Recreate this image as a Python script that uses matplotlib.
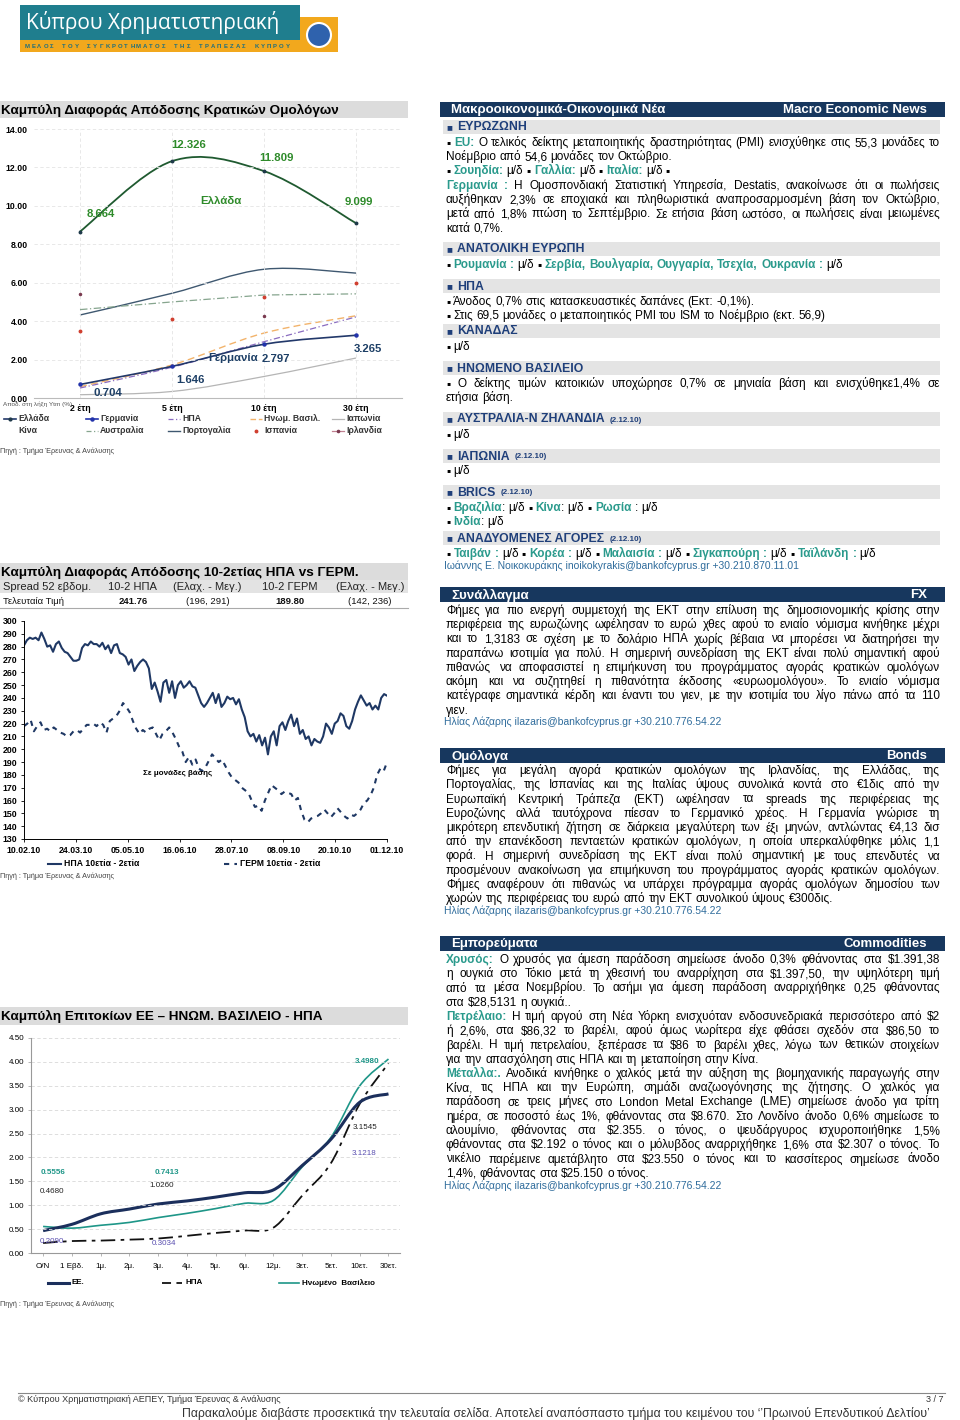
import re
import numpy as np
import pandas as pd
import matplotlib
matplotlib.use("Agg")
import matplotlib.pyplot as plt
import matplotlib.dates as mdates
from matplotlib.patches import Rectangle, Circle, PathPatch
from matplotlib.path import Path
from matplotlib.lines import Line2D

plt.rcParams["font.family"] = ["Liberation Sans", "DejaVu Sans"]
plt.rcParams["text.parse_math"] = False

# ---------------- data ----------------
maturities = ["2 έτη", "5 έτη", "10 έτη", "30 έτη"]
greece = [8.664, 12.326, 11.809, 9.099]
germany = [0.704, 1.646, 2.797, 3.265]
usa = [0.52, 1.60, 2.93, 4.22]
uk = [0.59, 1.72, 3.38, 4.28]
japan = [0.17, 0.34, 1.12, 2.08]
australia = [4.60, 5.00, 5.36, 5.42]
portugal = [4.32, 5.45, 6.70, 6.50]
spain = [3.50, 4.10, 5.28, 6.00]
ireland = [5.42, np.nan, 4.28, np.nan]

us_spread = [281, 285, 287, 286, 287, 285, 291, 286, 280, 281, 276, 282, 284, 279,
             276, 275, 272, 269, 269, 270, 279, 282, 281, 284, 282, 282, 280, 283,
             278, 281, 275, 281, 282, 275, 274, 272, 266, 270, 261, 265, 268, 270,
             268, 263, 247, 252, 245, 237, 252, 254, 244, 253, 240, 250, 253, 248,
             250, 253, 249, 248, 242, 236, 233, 236, 240, 244, 236, 243, 233, 236,
             241, 239, 240, 235, 239, 231, 225, 214, 210, 212, 206, 211, 203, 209,
             196, 210, 214, 203, 218, 221, 215, 222, 227, 218, 224, 212, 215, 208,
             210, 203, 208, 206, 205, 210, 220, 217, 212, 220, 222, 228, 226, 218,
             216, 222, 231, 237, 242, 238, 234, 236, 231, 234, 231, 240, 243, 241.76]
de_spread = [218, 220, 223, 214, 218, 221, 215, 216, 214, 217, 215, 213, 212, 210,
             211, 214, 215, 213, 216, 219, 219, 220, 218, 221, 219, 213, 222, 224,
             226, 230, 236, 233, 229, 222, 216, 212, 215, 213, 216, 217, 212, 207,
             212, 214, 217, 213, 208, 202, 198, 190, 194, 188, 192, 185, 183, 186,
             191, 196, 193, 190, 192, 187, 182, 178, 176, 174, 170, 168, 166, 160,
             155, 156, 152, 160, 166, 172, 170, 168, 165, 167, 166, 165, 160, 162,
             152, 145, 143, 146, 147, 148, 150, 153, 150, 147, 150, 154, 151, 148,
             146, 149, 148, 150, 153, 158, 160, 164, 170, 180, 185, 183, 189.8]
spread_ticks = ["10.02.10", "24.03.10", "05.05.10", "16.06.10", "28.07.10",
                "08.09.10", "20.10.10", "01.12.10"]

rate_mats = ["O/N", "1 Εβδ.", "1μ.", "2μ.", "3μ.", "4μ.", "5μ.", "6μ.", "12μ.",
             "3ετ.", "5ετ.", "10ετ.", "30ετ."]
rates_eu = [0.468, 0.60, 0.82, 0.92, 1.026, 1.09, 1.17, 1.26, 1.32, 1.83, 2.38, 3.1545, 3.33]
rates_uk = [0.5556, 0.52, 0.58, 0.64, 0.7413, 0.83, 0.93, 1.04, 1.10, 1.80, 2.42, 3.498, 4.06]
rates_us = [0.209, 0.25, 0.26, 0.28, 0.3034, 0.36, 0.42, 0.47, 0.53, 1.20, 1.88, 3.1218, 3.97]

NAVY = "#17375E"
HEAD = "#1F3F7A"
TEAL = "#2A9A8C"
AUTH = "#2F6C9C"
W, H = 960, 1420

fig = plt.figure(figsize=(9.6, 14.2), dpi=100)
R = fig.canvas.get_renderer()


def fx(x):
    return x / W


def fy(y):
    return 1 - y / H


def box(x0, y0, x1, y1, color, z=0.5):
    fig.add_artist(Rectangle((fx(x0), fy(y1)), (x1 - x0) / W, (y1 - y0) / H,
                             transform=fig.transFigure, facecolor=color,
                             edgecolor="none", zorder=z))


def txt(x, y, s, **kw):
    return fig.text(fx(x), fy(y), s, **kw)


def axes_px(x0, y0, x1, y1):
    return fig.add_axes([fx(x0), fy(y1), (x1 - x0) / W, (y1 - y0) / H])


def hline(x0, x1, y, **kw):
    fig.add_artist(Line2D([fx(x0), fx(x1)], [fy(y), fy(y)], transform=fig.transFigure, **kw))


def smooth(ax, xs, ys, **kw):
    pts = np.column_stack([xs, ys]).astype(float)
    n = len(pts)
    verts, codes = [pts[0]], [Path.MOVETO]
    for i in range(n - 1):
        p0, p1 = pts[max(i - 1, 0)], pts[i]
        p2, p3 = pts[i + 1], pts[min(i + 2, n - 1)]
        verts += [p1 + (p2 - p0) / 6, p2 - (p3 - p1) / 6, p2]
        codes += [Path.CURVE4] * 3
    ax.add_patch(PathPatch(Path(verts, codes), fill=False, **kw))


# ---------------- header / footer ----------------
box(20, 5, 300, 40, "#1F7E8E")
box(20, 40, 338, 52, "#F2A81D")
box(300, 17, 338, 52, "#F2A81D")
fig.add_artist(Circle((3.19, 14.2 - 0.35), 0.12, transform=fig.dpi_scale_trans,
                      facecolor="#2F62AD", edgecolor="white", lw=1.5, zorder=2))
txt(26, 23, "Κύπρου Χρηματιστηριακή", color="white", fontsize=15,
    family=["Open Sans", "DejaVu Sans"], va="center")
strip = "ΜΕΛΟΣ ΤΟΥ ΣΥΓΚΡΟΤΗΜΑΤΟΣ ΤΗΣ ΤΡΑΠΕΖΑΣ ΚΥΠΡΟΥ"
for i, ch in enumerate(strip):
    txt(27 + i * 6.2, 46.5, ch, color="#1F6E7E", fontsize=4.3, fontweight="bold",
        va="center", ha="center")

hline(18, 945, 1393, color="#888888", lw=0.8)
txt(18, 1399, "© Κύπρου Χρηματιστηριακή ΑΕΠΕΥ, Τμήμα Έρευνας & Ανάλυσης", fontsize=6.5,
    color="#333333", va="center", family=["Liberation Sans Narrow", "Liberation Sans"])
txt(943, 1399, "3 / 7", fontsize=6.5, color="#333333", va="center", ha="right")
txt(930, 1413, "Παρακαλούμε διαβάστε προσεκτικά την τελευταία σελίδα. Αποτελεί αναπόσπαστο "
    "τμήμα του κειμένου του ‘’Πρωινού Επενδυτικού Δελτίου’", fontsize=8.8, color="#333333",
    va="center", ha="right", family=["Liberation Sans Narrow", "Liberation Sans"])


def chart_title(y0, y1, s):
    box(0, y0, 408, y1, "#DCDCDC")
    txt(1, (y0 + y1) / 2 + 0.5, s, fontsize=9.7, fontweight="bold", va="center")


def source(y):
    txt(0, y, "Πηγή : Τμήμα Έρευνας & Ανάλυσης", fontsize=5.2, color="#444444", va="center")


# ---------------- chart 1 ----------------
chart_title(101, 118, "Καμπύλη Διαφοράς Απόδοσης Κρατικών Ομολόγων")
ax1 = axes_px(34, 129, 402, 398)
ax1.set_xlim(-0.5, 3.5)
ax1.set_ylim(0, 14)
x4 = np.arange(len(maturities))
ax1.plot(x4, australia, color="#86A58E", lw=0.9, dashes=(6, 2, 1, 2))
smooth(ax1, x4, portugal, edgecolor="#3F5870", lw=1.0)
smooth(ax1, x4, japan, edgecolor="#B5B5B5", lw=0.9)
smooth(ax1, x4, uk, edgecolor="#F2B36B", lw=1.0, linestyle=(0, (5, 3)))
smooth(ax1, x4, usa, edgecolor="#8A6CC0", lw=0.9, linestyle=(0, (5, 2, 1, 2)))
smooth(ax1, x4, germany, edgecolor="#22386A", lw=1.2)
smooth(ax1, x4, greece, edgecolor="#1F5A30", lw=1.3)
ax1.plot(x4, greece, "o", ms=1.8, color="#1F3A4A")
ax1.plot(x4, germany, "o", ms=2.2, color="#2233AA")
ax1.plot(x4, spain, "o", ms=1.8, color="#D04030")
ax1.plot(x4, ireland, "o", ms=1.5, color="#7A3A50")
for xi, yi, s in [(0.23, 9.6, "8.664"), (1.18, 13.15, "12.326"), (2.14, 12.5, "11.809"),
                  (3.03, 10.2, "9.099"), (1.53, 10.25, "Ελλάδα")]:
    ax1.text(xi, yi, s, color="#2E8B2A", fontsize=8.2, fontweight="bold", ha="center", va="center")
for xi, yi, s in [(0.3, 0.25, "0.704"), (1.2, 0.95, "1.646"), (2.13, 2.05, "2.797"),
                  (3.13, 2.55, "3.265"), (1.66, 2.08, "Γερμανία")]:
    ax1.text(xi, yi, s, color="#1D3F66", fontsize=8.2, fontweight="bold", ha="center", va="center")
ax1.set_yticks(np.arange(0, 15, 2))
ax1.set_yticklabels(["%.2f" % v for v in np.arange(0, 15, 2)], fontsize=6.3, fontweight="bold")
ax1.set_xticks(x4)
ax1.set_xticklabels(maturities, fontsize=6.3, fontweight="bold")
ax1.tick_params(length=0, pad=4.5)
ax1.grid(True, color="#E4E4E4", lw=0.6, dashes=(4, 3))
for sp in ax1.spines.values():
    sp.set_visible(False)
ax1.spines["bottom"].set_visible(True)
ax1.spines["bottom"].set_color("#BBBBBB")
txt(3, 404.5, "Αποδ. στη λήξη Ytm (%)", fontsize=4.6, color="#555555", va="center")

leg1 = [("Ελλάδα", dict(color="#22386A", lw=1.2), "o", 2.0),
        ("Γερμανία", dict(color="#2233AA", lw=1.2), "o", 2.2),
        ("ΗΠΑ", dict(color="#8A6CC0", lw=0.9, dashes=(4, 2, 1, 2)), None, 0),
        ("Ηνωμ. Βασιλ.", dict(color="#F2B36B", lw=1.0, dashes=(4, 2)), None, 0),
        ("Ιαπωνία", dict(color="#B5B5B5", lw=0.9), None, 0),
        ("Κίνα", dict(color="white", lw=0), None, 0),
        ("Αυστραλία", dict(color="#86A58E", lw=0.9, dashes=(4, 2, 1, 2)), None, 0),
        ("Πορτογαλία", dict(color="#3F5870", lw=1.0), None, 0),
        ("Ισπανία", dict(color="white", lw=0), "o", 1.8),
        ("Ιρλανδία", dict(color="#C08090", lw=0.9), "o", 1.6)]
leg_marker_col = {"Ισπανία": "#D04030", "Ιρλανδία": "#7A3A50", "Ελλάδα": "#1F3A4A", "Γερμανία": "#2233AA"}
for i, (name, st, mk, ms) in enumerate(leg1):
    cx = 4 + (i % 5) * 82
    cy = 419 if i < 5 else 431
    fig.add_artist(Line2D([fx(cx), fx(cx + 12)], [fy(cy), fy(cy)], transform=fig.transFigure, **st))
    if mk:
        fig.add_artist(Line2D([fx(cx + 6)], [fy(cy)], transform=fig.transFigure, lw=0,
                              marker=mk, ms=ms, color=leg_marker_col[name]))
    txt(cx + 14, cy, name, fontsize=6.2, fontweight="bold", color="#333333", va="center")
source(451)

# ---------------- chart 2 ----------------
chart_title(563, 580, "Καμπύλη Διαφοράς Απόδοσης 10-2ετίας ΗΠΑ vs ΓΕΡΜ.")
box(0, 580, 408, 593, "#E3E3E3")
for x, s, ha in [(3, "Spread 52 εβδομ.", "left"), (132, "10-2 ΗΠΑ", "center"),
                 (207, "(Ελαχ. - Μεγ.)", "center"), (290, "10-2 ΓΕΡΜ", "center"),
                 (370, "(Ελαχ. - Μεγ.)", "center")]:
    txt(x, 587, s, fontsize=8, ha=ha, va="center", color="#222222")
for x, s, ha, wt in [(3, "Τελευταία Τιμή", "left", "normal"), (133, "241.76", "center", "bold"),
                     (208, "(196, 291)", "center", "normal"), (290, "189.80", "center", "bold"),
                     (370, "(142, 236)", "center", "normal")]:
    txt(x, 601, s, fontsize=6.8, ha=ha, va="center", fontweight=wt, color="#111111")
hline(0, 408, 608.5, color="#AAAAAA", lw=0.8)

ax2 = axes_px(24, 621, 387, 839)
d_start, d_end = pd.Timestamp("2010-02-10"), pd.Timestamp("2010-12-01")
ax2.plot(pd.date_range(d_start, d_end, periods=len(us_spread)), us_spread,
         color="#1F3864", lw=1.5)
ax2.plot(pd.date_range(d_start, d_end, periods=len(de_spread)), de_spread,
         color="#1F3864", lw=1.5, dashes=(2.5, 2.5))
ax2.set_xlim(d_start, d_end)
ax2.set_ylim(130, 300)
ax2.set_yticks(range(130, 301, 10))
ax2.set_xticks(pd.to_datetime(spread_ticks, format="%d.%m.%y"))
ax2.xaxis.set_major_formatter(mdates.DateFormatter("%d.%m.%y"))
ax2.tick_params(labelsize=6.3, length=2, width=0.6, pad=3)
for lab in ax2.get_xticklabels() + ax2.get_yticklabels():
    lab.set_fontweight("bold")
ax2.spines["top"].set_visible(False)
ax2.spines["right"].set_visible(False)
ax2.spines["left"].set_linewidth(0.7)
ax2.spines["bottom"].set_linewidth(0.7)
ax2.text(pd.Timestamp("2010-06-14"), 181, "Σε μονάδες βάσης", fontsize=5.8,
         fontweight="bold", ha="center", va="center")
fig.add_artist(Line2D([fx(48), fx(61)], [fy(864), fy(864)], transform=fig.transFigure,
                      color="#1F3864", lw=1.5))
txt(64, 864, "ΗΠΑ 10ετία - 2ετία", fontsize=6.2, fontweight="bold", va="center")
fig.add_artist(Line2D([fx(224), fx(237)], [fy(864), fy(864)], transform=fig.transFigure,
                      color="#1F3864", lw=1.5, dashes=(2.5, 2.5)))
txt(240, 864, "ΓΕΡΜ 10ετία - 2ετία", fontsize=6.2, fontweight="bold", va="center")
source(876)

# ---------------- chart 3 ----------------
chart_title(1007, 1025, "Καμπύλη Επιτοκίων ΕΕ – ΗΝΩΜ. ΒΑΣΙΛΕΙΟ - ΗΠΑ")
ax3 = axes_px(31, 1038, 400, 1253)
x13 = np.arange(len(rate_mats))
ax3.set_xlim(-0.42, 12.4)
ax3.set_ylim(0, 4.5)
smooth(ax3, x13, rates_us, edgecolor="#111111", lw=1.3, linestyle=(0, (8, 3, 2, 3)))
smooth(ax3, x13, rates_uk, edgecolor="#1E9688", lw=1.2)
smooth(ax3, x13, rates_eu, edgecolor="#1B2F5C", lw=2.2)
for xi, yi, s in [(0.35, 1.68, "0.5556"), (4.3, 1.68, "0.7413"), (11.25, 4.0, "3.4980")]:
    ax3.text(xi, yi, s, color="#1E9688", fontsize=5.8, fontweight="bold", ha="center", va="center")
for xi, yi, s in [(0.3, 1.29, "0.4680"), (4.12, 1.42, "1.0260"), (11.2, 2.62, "3.1545")]:
    ax3.text(xi, yi, s, color="#222222", fontsize=5.8, ha="center", va="center")
for xi, yi, s in [(0.32, 0.24, "0.2090"), (4.2, 0.20, "0.3034"), (11.15, 2.08, "3.1218")]:
    ax3.text(xi, yi, s, color="#5A4FB0", fontsize=5.8, ha="center", va="center")
ax3.set_yticks(np.arange(0, 4.51, 0.5))
ax3.set_yticklabels(["%.2f" % v for v in np.arange(0, 4.51, 0.5)])
ax3.set_xticks(x13)
ax3.set_xticklabels(rate_mats)
ax3.tick_params(labelsize=5.8, length=2, width=0.5, color="#999999", pad=3)
ax3.tick_params(axis="x", pad=5)
ax3.grid(True, axis="y", color="#D8D8D8", lw=0.6, dashes=(4, 3))
ax3.spines["top"].set_visible(False)
ax3.spines["right"].set_visible(False)
ax3.spines["left"].set_color("#999999")
ax3.spines["bottom"].set_color("#999999")
fig.add_artist(Line2D([fx(48), fx(69)], [fy(1283), fy(1283)], transform=fig.transFigure,
                      color="#1B2F5C", lw=2.2))
txt(72, 1283, "ΕΕ.", fontsize=5.8, fontweight="bold", va="center")
fig.add_artist(Line2D([fx(162), fx(182)], [fy(1283), fy(1283)], transform=fig.transFigure,
                      color="#111111", lw=1.3, dashes=(5, 3)))
txt(186, 1283, "ΗΠΑ", fontsize=5.8, fontweight="bold", va="center")
fig.add_artist(Line2D([fx(279), fx(299)], [fy(1283), fy(1283)], transform=fig.transFigure,
                      color="#1E9688", lw=1.2))
txt(302, 1283, "Ηνωμένο  Βασίλειο", fontsize=5.8, fontweight="bold", va="center")
source(1304)

# ---------------- right column text ----------------
STY = {"n": dict(color="black"), "t": dict(color=TEAL, fontweight="bold")}
BODY = 8.5


def parse(line):
    parts = re.split(r"\{(\w)\}", line)
    runs = [(parts[0], "n")] + list(zip(parts[2::2], parts[1::2]))
    words = [[]]
    for t, k in runs:
        for i, chunk in enumerate(t.split(" ")):
            if i > 0:
                words.append([])
            if chunk:
                words[-1].append((chunk, k))
    return [w for w in words if w]


def ink(s, k, size):
    t = fig.text(0, 0, s, fontsize=size, **STY[k])
    w = t.get_window_extent(R).width
    t.remove()
    return w


def adv(s, k, size=BODY):
    # advance width: bracket the string with bars so bearings are counted
    return ink("|" + s + "|", k, size) - ink("||", k, size)


def put_line(y, line, justify=False, x0=446, x1=940):
    words = parse(line)
    size = BODY
    space = adv(" ", "n", size)
    ws = [sum(adv(p, k, size) for p, k in w) for w in words]
    natural = sum(ws) + space * (len(words) - 1)
    if natural > x1 - x0:
        size = BODY * (x1 - x0) / natural
        space = adv(" ", "n", size)
        ws = [sum(adv(p, k, size) for p, k in w) for w in words]
    gap = space
    if justify and len(words) > 1:
        gap = max((x1 - x0 - sum(ws)) / (len(words) - 1), space * 0.8)
    x = x0
    for w, wd in zip(words, ws):
        xx = x
        for p, k in w:
            txt(xx, y + 4, p, fontsize=size, va="baseline", **STY[k])
            xx += adv(p, k, size)
        x += wd + gap


def paragraph(y0, lines, step=14.25, last_free=True):
    for i, ln in enumerate(lines):
        put_line(y0 + i * step, ln, justify=not (last_free and i == len(lines) - 1))


def navy_bar(y0, y1, left, right):
    box(440, y0, 945, y1, NAVY)
    txt(451, (y0 + y1) / 2 + 0.5, left, color="white", fontweight="bold", fontsize=9.5, va="center")
    txt(927, (y0 + y1) / 2 + 0.5, right, color="white", fontweight="bold", fontsize=9.5,
        va="center", ha="right")


def section(y, title, date=None):
    box(443, y - 7, 940, y + 7, "#E4E4E4")
    txt(446, y + 0.5, "■", fontsize=7, color=HEAD, va="center")
    t = txt(457, y + 0.5, title, fontsize=8.8, fontweight="bold", color=HEAD, va="center")
    if date:
        xe = 457 + t.get_window_extent(R).width + 5
        txt(xe, y + 1, date, fontsize=5.8, fontweight="bold", color=HEAD, va="center")


def author(y, s):
    txt(444, y, s, fontsize=7.5, color=AUTH, va="center")


navy_bar(102, 117, "Μακροοικονομικά-Οικονομικά Νέα", "Macro Economic News")
section(127, "ΕΥΡΩΖΩΝΗ")
paragraph(142, ["▪ {t}EU:{n} Ο τελικός δείκτης μεταποιητικής δραστηριότητας (PMI) ενισχύθηκε στις 55,3 μονάδες το",
                "Νοέμβριο από 54,6 μονάδες τον Οκτώβριο."])
put_line(170, "▪ {t}Σουηδία:{n} μ/δ ▪ {t}Γαλλία:{n}  μ/δ ▪ {t}Ιταλία:{n} μ/δ ▪")
paragraph(185, ["{t}Γερμανία :{n} Η Ομοσπονδιακή Στατιστική Υπηρεσία, Destatis, ανακοίνωσε ότι οι πωλήσεις",
                "αυξήθηκαν 2,3% σε εποχιακά και πληθωριστικά αναπροσαρμοσμένη βάση τον Οκτώβριο,",
                "μετά από 1,8% πτώση το Σεπτέμβριο. Σε ετήσια βάση ωστόσο, οι πωλήσεις είναι μειωμένες",
                "κατά 0,7%."])
section(249, "ΑΝΑΤΟΛΙΚΗ ΕΥΡΩΠΗ")
put_line(264, "▪ {t}Ρουμανία :{n} μ/δ ▪ {t}Σερβία, Βουλγαρία, Ουγγαρία, Τσεχία, Ουκρανία :{n} μ/δ")
section(286, "ΗΠΑ")
put_line(301, "▪ Άνοδος 0,7% στις κατασκευαστικές δαπάνες (Εκτ: -0,1%).")
put_line(315, "▪ Στις 69,5 μονάδες ο μεταποιητικός PMI του ISM το Νοέμβριο (εκτ. 56,9)")
section(331, "ΚΑΝΑΔΑΣ")
put_line(346, "▪ μ/δ")
section(368, "ΗΝΩΜΕΝΟ ΒΑΣΙΛΕΙΟ")
paragraph(383, ["▪ Ο δείκτης τιμών  κατοικιών υποχώρησε 0,7% σε μηνιαία βάση και ενισχύθηκε1,4% σε",
                "ετήσια βάση."])
section(419, "ΑΥΣΤΡΑΛΙΑ-Ν ΖΗΛΑΝΔΙΑ", "(2.12.10)")
put_line(434, "▪ μ/δ")
section(456, "ΙΑΠΩΝΙΑ", "(2.12.10)")
put_line(470, "▪ μ/δ")
section(492, "BRICS", "(2.12.10)")
put_line(507, "▪ {t}Βραζιλία{n}: μ/δ ▪ {t}Κίνα{n}: μ/δ ▪ {t}Ρωσία{n} : μ/δ")
put_line(521, "▪ {t}Ινδία{n}: μ/δ")
section(538, "ΑΝΑΔΥΟΜΕΝΕΣ ΑΓΟΡΕΣ", "(2.12.10)")
put_line(553, "▪ {t}Ταιβάν :{n} μ/δ ▪ {t}Κορέα :{n} μ/δ ▪ {t}Μαλαισία :{n} μ/δ ▪ "
              "{t}Σιγκαπούρη :{n} μ/δ ▪ {t}Ταϊλάνδη :{n} μ/δ")
author(566, "Ιωάννης Ε. Νοικοκυράκης inoikokyrakis@bankofcyprus.gr +30.210.870.11.01")

navy_bar(587, 602, "Συνάλλαγμα", "FX")
paragraph(610, ["Φήμες για πιο ενεργή συμμετοχή της ΕΚΤ στην επίλυση της δημοσιονομικής κρίσης στην",
                "περιφέρεια της ευρωζώνης ωφέλησαν το ευρώ χθες αφού το ενιαίο νόμισμα κινήθηκε μέχρι",
                "και το 1,3183 σε σχέση με το δολάριο ΗΠΑ χωρίς βέβαια να μπορέσει να διατηρήσει την",
                "παραπάνω ισοτιμία για πολύ. Η σημερινή συνεδρίαση της ΕΚΤ είναι πολύ σημαντική αφού",
                "πιθανώς να αποφασιστεί η επιμήκυνση του προγράμματος αγοράς κρατικών ομολόγων",
                "ακόμη και να συζητηθεί η πιθανότητα έκδοσης «ευρωομολόγου». Το ενιαίο νόμισμα",
                "κατέγραφε σημαντικά κέρδη και έναντι του γιεν, με την ισοτιμία του λίγο πάνω από τα 110",
                "γιεν."])
author(722, "Ηλίας Λάζαρης ilazaris@bankofcyprus.gr +30.210.776.54.22")

navy_bar(748, 763, "Ομόλογα", "Bonds")
paragraph(770, ["Φήμες για μεγάλη αγορά κρατικών ομολόγων της Ιρλανδίας, της Ελλάδας, της",
                "Πορτογαλίας, της Ισπανίας και της Ιταλίας ύψους συνολικά κοντά στο €1δις από την",
                "Ευρωπαϊκή Κεντρική Τράπεζα (ΕΚΤ) ωφέλησαν τα spreads της περιφέρειας της",
                "Ευροζώνης αλλά ταυτόχρονα πίεσαν το Γερμανικό χρέος. Η Γερμανία γνώρισε τη",
                "μικρότερη επενδυτική ζήτηση σε διάρκεια μεγαλύτερη των έξι μηνών, αντλώντας €4,13 δισ",
                "από την επανέκδοση πενταετών κρατικών ομολόγων, η οποία υπερκαλύφθηκε μόλις 1,1",
                "φορά. Η σημερινή συνεδρίαση της ΕΚΤ είναι πολύ σημαντική με τους επενδυτές να",
                "προσμένουν ανακοίνωση για επιμήκυνση του προγράμματος αγοράς κρατικών ομολόγων.",
                "Φήμες αναφέρουν ότι πιθανώς να υπάρχει πρόγραμμα αγοράς ομολόγων δημοσίου των",
                "χωρών της περιφέρειας του ευρώ από την ΕΚΤ συνολικού ύψους €300δις."])
author(911, "Ηλίας Λάζαρης ilazaris@bankofcyprus.gr +30.210.776.54.22")

navy_bar(936, 951, "Εμπορεύματα", "Commodities")
paragraph(959, ["{t}Χρυσός:{n} Ο χρυσός για άμεση παράδοση σημείωσε άνοδο 0,3% φθάνοντας στα $1.391,38",
                "η ουγκιά στο Τόκιο μετά τη χθεσινή του αναρρίχηση στα $1.397,50, την υψηλότερη τιμή",
                "από τα μέσα Νοεμβρίου. Το ασήμι για άμεση παράδοση αναρριχήθηκε 0,25 φθάνοντας",
                "στα $28,5131 η ουγκιά.."])
paragraph(1016, ["{t}Πετρέλαιο:{n} Η τιμή αργού στη Νέα Υόρκη ενισχυόταν ενδοσυνεδριακά περισσότερο από $2",
                 "ή 2,6%, στα $86,32 το βαρέλι, αφού όμως νωρίτερα είχε φθάσει σχεδόν στα $86,50 το",
                 "βαρέλι. Η τιμή πετρελαίου, ξεπέρασε τα $86 το βαρέλι χθες, λόγω των θετικών στοιχείων",
                 "για την απασχόληση στις ΗΠΑ και τη μεταποίηση στην Κίνα."])
paragraph(1073, ["{t}Μέταλλα:.{n} Ανοδικά κινήθηκε ο χαλκός μετά την αύξηση της βιομηχανικής παραγωγής στην",
                 "Κίνα, τις ΗΠΑ και την Ευρώπη, σημάδι αναζωογόνησης της ζήτησης. Ο χαλκός για",
                 "παράδοση σε τρεις μήνες στο London Metal Exchange (LME) σημείωσε άνοδο για τρίτη",
                 "ημέρα, σε ποσοστό έως 1%, φθάνοντας στα $8.670. Στο Λονδίνο άνοδο 0,6% σημείωσε το",
                 "αλουμίνιο, φθάνοντας στα $2.355. ο τόνος, ο ψευδάργυρος ισχυροποιήθηκε 1,5%",
                 "φθάνοντας στα $2.192 ο τόνος και ο μόλυβδος αναρριχήθηκε 1,6% στα $2.307 ο τόνος. Το",
                 "νικέλιο παρέμεινε αμετάβλητο στα $23.550 ο τόνος και το κασσίτερος σημείωσε άνοδο",
                 "1,4%, φθάνοντας στα $25.150 ο τόνος."])
author(1186, "Ηλίας Λάζαρης ilazaris@bankofcyprus.gr +30.210.776.54.22")

fig.savefig("out.png", dpi=100)
